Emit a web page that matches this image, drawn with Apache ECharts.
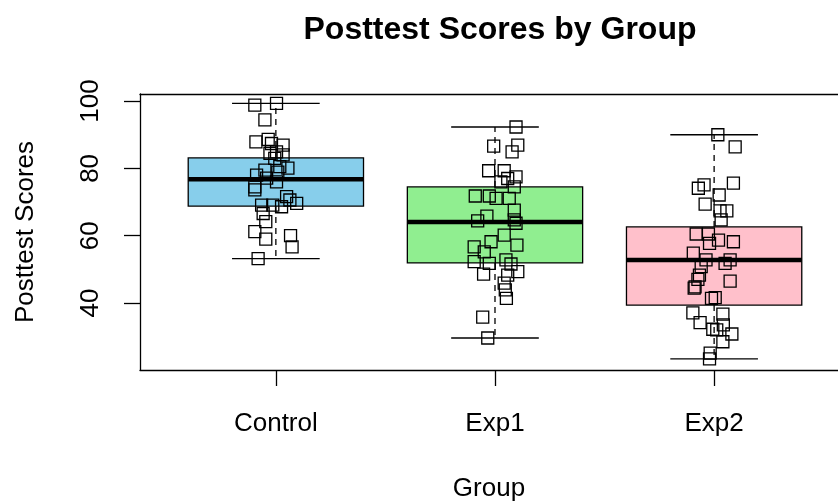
<!DOCTYPE html>
<html>
<head>
<meta charset="utf-8">
<script src="https://cdn.jsdelivr.net/npm/echarts@6/dist/echarts.min.js"></script>
<style>
html,body{margin:0;padding:0;background:#fff;}
#chart{width:838px;height:502px;}
</style>
</head>
<body>
<div id="chart"></div>
<script>
const categories = ['Control', 'Exp1', 'Exp2'];
const boxColors = ['#87CEEB', '#90EE90', '#FFC0CB'];
const yTicks = [40, 60, 80, 100];

const boxMin = [53.2, 29.6, 23.4];
const boxQ1 = [68.8, 51.9, 39.4];
const boxMedian = [76.8, 64.1, 52.8];
const boxQ3 = [83.1, 74.5, 62.6];
const boxMax = [99.3, 92.3, 90.0];

const controlScores = [99.3, 98.8, 94.4, 87.9, 88.6, 87.4, 86.9, 84.5, 84.9, 84.0, 83.0, 80.5, 80.1, 79.5, 78.0, 78.9, 77.1, 76.0, 74.5, 73.6, 71.6, 69.6, 70.6, 69.1, 69.1, 68.6, 66.6, 64.2, 61.2, 59.0, 60.0, 56.7, 53.2];
const controlJitter = [0.003, -0.096, -0.050, -0.091, -0.035, -0.020, 0.033, -0.027, 0.003, 0.033, -0.005, 0.018, 0.055, -0.050, -0.088, 0.009, -0.042, 0.003, -0.096, -0.096, 0.049, 0.095, 0.064, -0.065, -0.014, 0.026, -0.058, -0.046, -0.096, -0.046, 0.067, 0.074, -0.081];

const exp1Scores = [92.3, 86.6, 86.9, 84.9, 79.3, 79.3, 77.0, 77.5, 74.5, 76.0, 71.8, 71.8, 71.1, 71.1, 67.6, 65.8, 64.4, 63.7, 64.7, 60.2, 58.2, 57.2, 56.7, 55.2, 52.3, 51.8, 52.8, 51.6, 49.3, 48.6, 48.3, 45.9, 43.9, 41.4, 35.8, 29.6];
const exp1Jitter = [0.096, -0.006, 0.104, 0.078, -0.029, 0.042, 0.058, 0.096, 0.088, 0.027, -0.090, -0.026, 0.005, 0.065, 0.088, -0.037, -0.079, 0.096, 0.088, 0.042, -0.018, 0.100, -0.095, -0.049, -0.095, -0.026, 0.050, 0.073, 0.104, -0.052, 0.058, 0.042, 0.047, 0.052, -0.056, -0.033];

const exp2Scores = [90.0, 86.4, 75.1, 74.1, 75.6, 72.1, 69.4, 67.4, 67.4, 64.7, 60.5, 60.5, 58.7, 58.2, 57.7, 54.8, 52.8, 50.8, 52.8, 51.8, 48.3, 47.0, 44.8, 44.4, 46.5, 41.6, 41.4, 37.1, 36.7, 34.2, 33.5, 32.2, 32.0, 30.8, 28.5, 25.1, 23.4];
const exp2Jitter = [0.017, 0.096, -0.046, -0.072, 0.088, 0.023, -0.041, 0.027, 0.058, 0.032, -0.082, -0.026, 0.020, 0.088, -0.021, -0.095, -0.037, -0.059, 0.073, 0.050, -0.067, -0.074, -0.087, -0.091, 0.073, 0.005, -0.012, -0.097, 0.040, -0.064, 0.042, -0.006, 0.012, 0.081, 0.040, -0.018, -0.021];

const groupScores = [controlScores, exp1Scores, exp2Scores];
const groupJitter = [controlJitter, exp1Jitter, exp2Jitter];

const boxData = categories.map((c, i) => [i + 1, boxMin[i], boxQ1[i], boxMedian[i], boxQ3[i], boxMax[i]]);
const pointData = [];
groupScores.forEach((arr, g) => {
  arr.forEach((v, k) => pointData.push([g + 1 + groupJitter[g][k], v]));
});

const FONT = '"Liberation Sans", Arial, Helvetica, sans-serif';
const chart = echarts.init(document.getElementById('chart'), null, { renderer: 'canvas' });

function renderBox(params, api) {
  const x = api.value(0);
  const mn = api.value(1), q1 = api.value(2), md = api.value(3), q3 = api.value(4), mx = api.value(5);
  const hw = 0.4, sw = 0.2;
  const pTL = api.coord([x - hw, q3]);
  const pBR = api.coord([x + hw, q1]);
  const c = api.coord([x, md]);
  const top = api.coord([x, mx]);
  const bot = api.coord([x, mn]);
  const sL = api.coord([x - sw, mx])[0];
  const sR = api.coord([x + sw, mx])[0];
  const dash = { stroke: '#000', lineWidth: 1.3, lineDash: [6, 5] };
  const solid = { stroke: '#000', lineWidth: 1.3 };
  return {
    type: 'group',
    children: [
      { type: 'line', shape: { x1: c[0], y1: pTL[1], x2: c[0], y2: top[1] }, style: dash },
      { type: 'line', shape: { x1: c[0], y1: pBR[1], x2: c[0], y2: bot[1] }, style: dash },
      { type: 'line', shape: { x1: sL, y1: top[1], x2: sR, y2: top[1] }, style: solid },
      { type: 'line', shape: { x1: sL, y1: bot[1], x2: sR, y2: bot[1] }, style: solid },
      { type: 'rect', shape: { x: pTL[0], y: pTL[1], width: pBR[0] - pTL[0], height: pBR[1] - pTL[1] },
        style: { fill: boxColors[params.dataIndex], stroke: '#000', lineWidth: 1.3 } },
      { type: 'line', shape: { x1: pTL[0], y1: c[1], x2: pBR[0], y2: c[1] }, style: { stroke: '#000', lineWidth: 4.5 } }
    ]
  };
}

const frameLine = { show: true, lineStyle: { color: '#000', width: 1.3 } };

chart.setOption({
  animation: false,
  backgroundColor: '#fff',
  title: {
    text: 'Posttest Scores by Group',
    left: 495,
    top: 9,
    textAlign: 'center',
    textStyle: { fontFamily: FONT, fontSize: 32, fontWeight: 'bold', color: '#000' }
  },
  grid: {
    left: 140, top: 94, width: 698, height: 276,
    show: false,
    containLabel: false,
    outerBoundsMode: 'none'
  },
  xAxis: [{
    type: 'value',
    min: 0.38, max: 3.5653,
    name: 'Group',
    nameLocation: 'middle',
    nameGap: 106,
    nameTextStyle: { fontFamily: FONT, fontSize: 26, color: '#000' },
    axisLine: frameLine,
    splitLine: { show: false },
    axisTick: { show: true, length: 16, lineStyle: { color: '#000', width: 1.3 }, customValues: [1, 2, 3] },
    axisLabel: {
      customValues: [1, 2, 3],
      margin: 41,
      formatter: v => categories[Math.round(v) - 1],
      fontFamily: FONT, fontSize: 26, color: '#000'
    }
  }, {
    type: 'value',
    position: 'top',
    min: 0.38, max: 3.5653,
    axisLine: frameLine,
    axisTick: { show: false },
    axisLabel: { show: false },
    splitLine: { show: false }
  }],
  yAxis: {
    type: 'value',
    min: 20.1, max: 102.1,
    name: 'Posttest Scores',
    nameLocation: 'middle',
    nameGap: 101,
    nameRotate: 90,
    nameTextStyle: { fontFamily: FONT, fontSize: 26, color: '#000' },
    axisLine: frameLine,
    splitLine: { show: false },
    axisTick: { show: true, length: 16, lineStyle: { color: '#000', width: 1.3 }, customValues: yTicks },
    axisLabel: {
      customValues: yTicks,
      rotate: 90,
      margin: 36,
      fontFamily: FONT, fontSize: 26, color: '#000'
    }
  },
  series: [
    {
      type: 'custom',
      renderItem: renderBox,
      data: boxData,
      encode: { x: 0, y: [1, 2, 3, 4, 5] },
      z: 2,
      silent: true
    },
    {
      type: 'scatter',
      data: pointData,
      symbol: 'rect',
      symbolSize: 12,
      itemStyle: { color: 'transparent', borderColor: '#000', borderWidth: 1.3, opacity: 1 },
      z: 5,
      silent: true
    }
  ]
});
</script>
</body>
</html>
